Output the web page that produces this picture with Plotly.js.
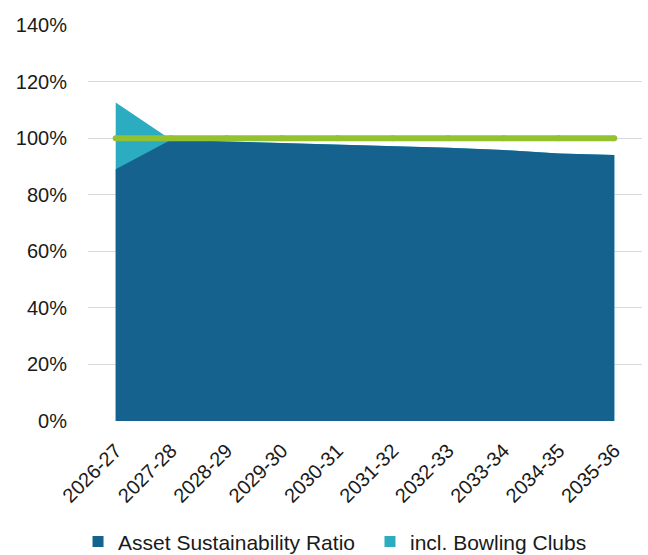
<!DOCTYPE html>
<html>
<head>
<meta charset="utf-8">
<script src="https://cdn.plot.ly/plotly-3.0.1.min.js"></script>
<style>html,body{margin:0;padding:0;background:#fff;}#chart{width:648px;height:555px;}</style>
</head>
<body>
<div id="chart"></div>
<script>
const years = ["2026-27","2027-28","2028-29","2029-30","2030-31","2031-32","2032-33","2033-34","2034-35","2035-36"];
const assetRatio = [89, 99.4, 98.8, 98.3, 97.7, 97.1, 96.6, 95.8, 94.6, 94.0];
const inclBowling = [112.6, 99.4, 98.8, 98.3, 97.7, 97.1, 96.6, 95.8, 94.6, 94.0];
const target = [100, 100, 100, 100, 100, 100, 100, 100, 100, 100];
const yTicks = [0, 20, 40, 60, 80, 100, 120, 140];

const darkBlue = "#16628F";
const teal = "#2BACC1";
const green = "#93C130";

const traces = [
  {x: years, y: inclBowling, type: "scatter", mode: "lines", fill: "tozeroy",
   fillcolor: teal, line: {width: 0, color: teal}, showlegend: false, hoverinfo: "skip"},
  {x: years, y: assetRatio, type: "scatter", mode: "lines", fill: "tozeroy",
   fillcolor: darkBlue, line: {width: 0, color: darkBlue}, showlegend: false, hoverinfo: "skip"},
  {x: years, y: target, type: "scatter", mode: "lines+markers",
   line: {width: 6, color: green}, marker: {size: 6, color: green}, showlegend: false},
  {x: [null], y: [null], type: "scatter", mode: "markers", name: "Asset Sustainability Ratio",
   legend: "legend", marker: {symbol: "square", size: 11, color: darkBlue}},
  {x: [null], y: [null], type: "scatter", mode: "markers", name: "incl. Bowling Clubs",
   legend: "legend2", marker: {symbol: "square", size: 11, color: teal}}
];

const legendCommon = {orientation: "h", xanchor: "left", yanchor: "middle",
                      font: {size: 21}, bgcolor: "rgba(0,0,0,0)", borderwidth: 0};

const layout = {
  width: 648, height: 555,
  margin: {l: 88, r: 6, t: 25, b: 134, autoexpand: false},
  paper_bgcolor: "#fff", plot_bgcolor: "#fff",
  font: {family: "Liberation Sans, Arial, sans-serif", size: 20, color: "#1a1a1a"},
  xaxis: {type: "category", tickangle: -45, showgrid: false, zeroline: false, automargin: false,
          showline: false, ticks: "", range: [-0.5, 9.5], tickfont: {size: 20},
          ticklabelstandoff: 13},
  yaxis: {range: [0, 140], tickvals: yTicks, ticktext: yTicks.map(v => v + "%"), automargin: false,
          showgrid: true, gridcolor: "#d9d9d9", gridwidth: 1, zeroline: false,
          showline: false, ticks: "", tickfont: {size: 20}, ticklabelstandoff: 20},
  showlegend: true,
  legend: Object.assign({x: -0.018, y: -0.305}, legendCommon),
  legend2: Object.assign({x: 0.509, y: -0.305}, legendCommon)
};

Plotly.newPlot("chart", traces, layout, {displayModeBar: false, staticPlot: true});
</script>
</body>
</html>
